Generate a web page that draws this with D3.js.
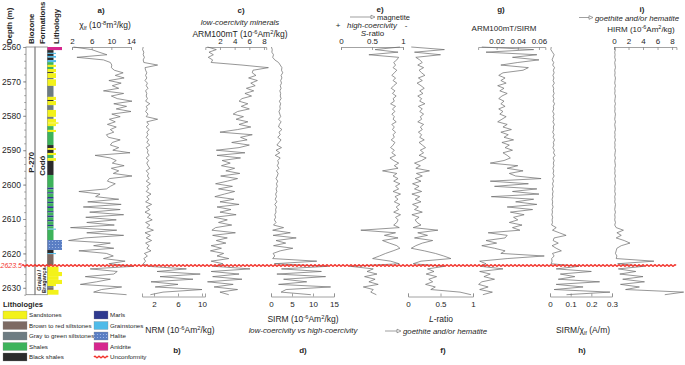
<!DOCTYPE html>
<html lang="en">
<head>
<meta charset="UTF-8">
<title>Magnetic properties log - P-270</title>
<script src="https://d3js.org/d3.v7.min.js"></script>
<style>
    body { margin: 0; background: #fff; font-family: "Liberation Sans", Arial, sans-serif; }
    svg text { fill: #262626; font-family: "Liberation Sans", Arial, sans-serif; }
    .curve { fill: none; stroke: #6a6a6a; stroke-width: 0.7; stroke-linejoin: bevel; }
    .axis path, .axis line { stroke: #8c8c8c; stroke-width: 0.8; }
    .axis text { font-size: 8px; fill: #262626; }
    .box { fill: none; stroke: #808080; stroke-width: 0.8; }
    .hdr { font-size: 7.8px; font-weight: bold; }
    .ttl { font-size: 8px; font-weight: bold; }
    .lbl { font-size: 8px; }
    .it { font-size: 7.8px; font-style: italic; }
    .leg { font-size: 6.2px; }
    .wave { fill: none; stroke: #f2332b; stroke-width: 1.4; }
    .arrow { fill: none; stroke: #777; stroke-width: 0.7; }
</style>
</head>
<body>
<svg id="chart" width="685" height="365"></svg>
<script>
// depth of every measurement (m)
const depths = [
    2560, 2560.75, 2561.5, 2562.25, 2563, 2563.75, 2564.5, 2565.25, 2566, 2566.75,
    2567.5, 2568.25, 2569, 2569.75, 2570.5, 2571.25, 2572, 2572.75, 2573.5, 2574.25,
    2575, 2575.75, 2576.5, 2577.25, 2578, 2578.75, 2579.5, 2580.25, 2581, 2581.75,
    2582.5, 2583.25, 2584, 2584.75, 2585.5, 2586.25, 2587, 2587.75, 2588.5, 2589.25,
    2590, 2590.75, 2591.5, 2592.25, 2593, 2593.75, 2594.5, 2595.25, 2596, 2596.75,
    2597.5, 2598.25, 2599, 2599.75, 2600.5, 2601.25, 2602, 2602.75, 2603.5, 2604.25,
    2605, 2605.75, 2606.5, 2607.25, 2608, 2608.75, 2609.5, 2610.25, 2611, 2611.75,
    2612.5, 2613.25, 2614, 2614.75, 2615.5, 2616.25, 2617, 2617.75, 2618.5, 2619.25,
    2620, 2620.75, 2621.5, 2622.25, 2623, 2623.75, 2624.5, 2625.25, 2626, 2626.75,
    2627.5, 2628.25, 2629, 2629.75, 2630.5, 2631.25, 2632
];

// a) chi lf (10^-8 m3/kg)
const chiLf = [
    2.3, 6.0, 7.5, 9.1, 3.0, 8.4, 9.8, 10.1, 10.0, 10.6,
    12.4, 10.8, 12.6, 9.5, 12.0, 10.2, 11.5, 8.4, 12.5, 10.0,
    11.2, 14.2, 10.5, 13.1, 11.0, 14.0, 10.1, 11.8, 9.6, 10.8,
    9.2, 11.0, 9.8, 10.5, 9.0, 9.4, 11.8, 10.2, 9.8, 11.5,
    10.3, 13.8, 6.7, 9.8, 11.0, 10.2, 12.6, 10.0, 11.5, 10.4,
    14.2, 9.6, 9.2, 10.8, 9.8, 9.0, 3.4, 7.7, 6.8, 11.5,
    5.2, 12.0, 4.3, 11.8, 5.6, 12.5, 4.8, 11.0, 5.0, 10.6,
    1.7, 11.1, 5.0, 12.5, 4.6, 1.3, 9.8, 6.4, 10.5, 3.4,
    9.0, 10.4, 8.4, 12.8, 9.5, 14.5, 5.7, 11.2, 10.5, 4.7,
    9.8, 7.0, 3.7, 12.1, 8.0, 6.4, 13.1
];

// b) NRM (10^-6 Am2/kg)
const nrm = [
    0.2, 0.1, 0.3, 0.2, 0.4, 0.2, 0.3, 2.6, 0.5, 0.6,
    0.8, 0.6, 0.8, 0.5, 0.9, 0.7, 1.0, 0.6, 0.8, 0.7,
    0.9, 0.6, 1.3, 0.7, 0.9, 0.6, 1.0, 0.7, 2.6, 0.8,
    1.1, 0.7, 1.2, 0.8, 1.0, 0.7, 1.1, 0.8, 1.3, 0.7,
    1.0, 0.9, 1.2, 0.7, 1.1, 0.8, 1.0, 1.3, 0.7, 1.1,
    0.9, 1.2, 0.7, 1.4, 0.8, 1.1, 0.7, 1.5, 0.8, 1.2,
    0.6, 1.6, 0.7, 1.3, 0.5, 1.4, 0.9, 1.7, 0.6, 1.3,
    0.8, 1.9, 0.5, 1.4, 0.7, 1.6, 0.6, 1.2, 0.8, 1.5,
    0.4, 0.9, 0.3, 0.6, 0.2, 1.0, 7.4, 2.5, 9.7, 3.0,
    8.5, 1.5, 6.0, 2.2, 10.0, 3.5, 1.4
];

// c) ARM100mT (10^-6 Am2/kg)
const arm = [
    0.3, 1.5, 0.5, 1.1, 0.4, 1.0, 0.8, 5.0, 8.6, 6.5,
    6.4, 6.9, 5.9, 7.1, 6.2, 6.8, 5.6, 6.6, 5.4, 6.3,
    5.0, 4.6, 5.8, 4.9, 6.0, 4.4, 3.8, 5.2, 4.2, 5.8,
    4.6, 6.2, 4.4, 2.0, 6.4, 4.8, 5.7, 3.6, 6.0, 4.6,
    1.5, 5.4, 1.6, 4.8, 2.3, 3.4, 2.2, 4.0, 2.8, 4.7,
    2.1, 4.4, 3.0, 1.4, 3.7, 1.8, 4.0, 2.6, 1.3, 3.9,
    2.0, 4.6, 1.6, 3.5, 2.0, 4.2, 1.2, 3.0, 1.8, 3.6,
    1.4, 0.9, 4.1, 1.0, 3.0, 1.5, 2.8, 0.8, 2.2, 0.7,
    2.5, 1.6, 3.2, 0.8, 2.4, 1.2, 6.1, 0.8, 4.6, 1.0,
    5.0, 0.3, 3.8, 1.2, 4.4, 2.0, 3.2
];

// d) SIRM (10^-6 Am2/kg)
const sirm = [
    0.1, 0.3, 0.2, 0.6, 0.4, 0.9, 1.8, 2.2, 2.6, 2.5,
    2.8, 2.4, 2.6, 2.3, 2.5, 2.2, 2.4, 2.1, 2.3, 2.2,
    2.4, 2.0, 2.3, 2.1, 2.2, 1.9, 2.1, 2.3, 1.8, 2.4,
    2.0, 1.8, 2.6, 1.9, 2.2, 1.6, 2.4, 1.9, 1.4, 2.5,
    1.2, 2.1, 1.0, 2.2, 1.6, 1.8, 1.5, 1.9, 1.3, 1.7,
    1.5, 1.2, 1.6, 1.3, 1.5, 1.2, 1.4, 1.1, 1.3, 1.0,
    1.4, 0.9, 1.3, 1.1, 1.2, 0.9, 1.1, 0.8, 1.2, 0.6,
    3.0, 0.4, 4.6, 0.5, 6.0, 1.2, 3.5, 0.6, 5.2, 2.2,
    0.5, 0.9, 0.4, 10.9, 0.8, 13.5, 2.5, 12.0, 1.4, 13.0,
    3.0, 8.5, 1.8, 14.2, 3.6, 2.4, 9.5
];

// e) S-ratio
const sRatio = [
    0.95, 0.55, 0.92, 0.45, 0.93, 0.90, 0.85, 0.88, 0.84, 0.90,
    0.86, 0.82, 0.88, 0.84, 0.90, 0.85, 0.81, 0.87, 0.83, 0.89,
    0.84, 0.86, 0.80, 0.88, 0.83, 0.87, 0.82, 0.86, 0.84, 0.89,
    0.82, 0.86, 0.83, 0.88, 0.84, 0.86, 0.81, 0.87, 0.84, 0.80,
    0.86, 0.82, 0.88, 0.79, 0.85, 0.93, 0.86, 0.92, 0.67, 0.90,
    0.84, 0.92, 0.85, 0.95, 0.88, 0.93, 0.84, 0.96, 0.87, 0.92,
    0.86, 0.95, 0.89, 0.93, 0.85, 0.96, 0.88, 0.92, 0.90, 0.85,
    0.94, 0.32, 0.88, 0.70, 0.92, 0.67, 0.78, 0.90, 0.95, 0.84,
    0.72, 0.62, 0.51, 0.80, 0.94, 0.15, 0.52, 0.42, 0.58, 0.38,
    0.55, 0.45, 0.60, 0.36, 0.52, 0.48, 0.57
];

// f) L-ratio
const lRatio = [
    0.05, 0.56, 0.10, 0.50, 0.12, 0.18, 0.22, 0.15, 0.24, 0.17,
    0.21, 0.26, 0.16, 0.22, 0.14, 0.20, 0.25, 0.18, 0.23, 0.15,
    0.21, 0.18, 0.26, 0.16, 0.22, 0.18, 0.24, 0.19, 0.21, 0.15,
    0.24, 0.19, 0.22, 0.16, 0.21, 0.18, 0.25, 0.17, 0.22, 0.27,
    0.19, 0.24, 0.17, 0.28, 0.21, 0.10, 0.19, 0.12, 0.33, 0.13,
    0.22, 0.11, 0.20, 0.07, 0.17, 0.10, 0.21, 0.06, 0.18, 0.11,
    0.20, 0.07, 0.16, 0.10, 0.22, 0.06, 0.17, 0.11, 0.14, 0.20,
    0.08, 0.46, 0.15, 0.30, 0.10, 0.38, 0.22, 0.12, 0.05, 0.25,
    0.42, 0.55, 0.66, 0.20, 0.08, 0.56, 0.30, 0.40, 0.28, 0.44,
    0.32, 0.38, 0.27, 0.42, 0.35, 0.80, 0.97
];

// g) ARM100mT/SIRM
const armSirm = [
    0.006, 0.055, 0.010, 0.058, 0.035, 0.060, 0.040, 0.024, 0.050, 0.045,
    0.026, 0.022, 0.028, 0.024, 0.029, 0.021, 0.027, 0.023, 0.030, 0.025,
    0.022, 0.027, 0.024, 0.028, 0.022, 0.026, 0.023, 0.029, 0.025, 0.021,
    0.030, 0.026, 0.034, 0.024, 0.031, 0.027, 0.036, 0.025, 0.032, 0.028,
    0.035, 0.026, 0.030, 0.033, 0.027, 0.014, 0.040, 0.030, 0.045, 0.032,
    0.038, 0.062, 0.014, 0.050, 0.018, 0.058, 0.035, 0.060, 0.015, 0.055,
    0.038, 0.058, 0.030, 0.054, 0.033, 0.046, 0.036, 0.040, 0.032, 0.044,
    0.035, 0.042, 0.012, 0.030, 0.028, 0.010, 0.020, 0.006, 0.018, 0.028,
    0.024, 0.065, 0.030, 0.004, 0.010, 0.005, 0.026, 0.004, 0.014, 0.008,
    0.018, 0.006, 0.003, 0.012, 0.004, 0.016, 0.007
];

// h) SIRM/chi lf (A/m)
const sirmChi = [
    0.006, 0.004, 0.012, 0.020, 0.015, 0.010, 0.018, 0.013, 0.022, 0.016,
    0.020, 0.014, 0.019, 0.015, 0.021, 0.013, 0.018, 0.016, 0.020, 0.014,
    0.019, 0.015, 0.022, 0.016, 0.018, 0.013, 0.020, 0.015, 0.019, 0.014,
    0.021, 0.016, 0.018, 0.013, 0.020, 0.015, 0.022, 0.016, 0.019, 0.014,
    0.021, 0.017, 0.024, 0.015, 0.020, 0.016, 0.019, 0.014, 0.018, 0.015,
    0.020, 0.013, 0.017, 0.012, 0.016, 0.011, 0.015, 0.012, 0.014, 0.010,
    0.013, 0.011, 0.015, 0.010, 0.012, 0.009, 0.013, 0.010, 0.012, 0.008,
    0.030, 0.012, 0.045, 0.078, 0.020, 0.015, 0.040, 0.010, 0.030, 0.055,
    0.012, 0.020, 0.008, 0.010, 0.006, 0.140, 0.030, 0.200, 0.050, 0.120,
    0.040, 0.240, 0.030, 0.160, 0.020, 0.290, 0.080
];

// i) HIRM (10^-6 Am2/kg)
const hirm = [
    0.1, 0.2, 0.1, 0.15, 0.1, 0.2, 0.1, 0.15, 0.2, 0.1,
    0.15, 0.1, 0.2, 0.15, 0.1, 0.2, 0.1, 0.15, 0.1, 0.2,
    0.15, 0.1, 0.2, 0.1, 0.15, 0.1, 0.2, 0.15, 0.1, 0.2,
    0.1, 0.15, 0.2, 0.1, 0.15, 0.1, 0.2, 0.1, 0.15, 0.1,
    0.2, 0.15, 0.1, 0.2, 0.1, 0.15, 0.2, 0.1, 0.15, 0.1,
    0.2, 0.1, 0.15, 0.2, 0.1, 0.15, 0.1, 0.2, 0.1, 0.15,
    0.1, 0.2, 0.15, 0.1, 0.2, 0.1, 0.15, 0.1, 0.2, 0.1,
    0.3, 1.3, 0.4, 1.0, 0.3, 1.4, 2.2, 1.0, 0.4, 0.3,
    0.2, 0.4, 0.3, 5.5, 0.5, 4.1, 0.6, 3.0, 0.8, 4.0,
    1.2, 4.2, 0.9, 3.5, 1.6, 9.6, 7.0
];

// lithology column: top, base, rock code, grain class
const lithTop = [
    2560.0, 2560.9, 2561.7, 2562.0, 2562.6, 2563.1, 2563.8, 2564.4, 2565.2, 2565.8,
    2566.4, 2567.3, 2567.6, 2569.0, 2569.4, 2571.3, 2574.5, 2575.4, 2575.7, 2576.9,
    2578.3, 2580.3, 2580.9, 2581.9, 2582.3, 2583.0, 2584.1, 2584.7, 2588.5, 2589.4,
    2589.9, 2590.8, 2591.4, 2592.3, 2593.1, 2597.2, 2600.4, 2600.9, 2601.4, 2602.2,
    2602.6, 2603.6, 2604.1, 2605.0, 2605.4, 2606.3, 2606.8, 2607.7, 2608.1, 2609.0,
    2609.5, 2610.3, 2610.7, 2611.7, 2612.1, 2612.8, 2613.1, 2616.1, 2619.0, 2619.9,
    2620.2, 2623.8, 2625.4, 2626.6, 2627.7, 2628.9, 2629.5, 2630.0, 2630.6
];
const lithBase = [
    2560.9, 2561.7, 2562.0, 2562.6, 2563.1, 2563.8, 2564.4, 2565.2, 2565.8, 2566.4,
    2567.3, 2567.6, 2569.0, 2569.4, 2571.3, 2574.5, 2575.4, 2575.7, 2576.9, 2578.3,
    2580.3, 2580.9, 2581.9, 2582.3, 2583.0, 2584.1, 2584.7, 2588.5, 2589.4, 2589.9,
    2590.8, 2591.4, 2592.3, 2593.1, 2597.2, 2600.4, 2600.9, 2601.4, 2602.2, 2602.6,
    2603.6, 2604.1, 2605.0, 2605.4, 2606.3, 2606.8, 2607.7, 2608.1, 2609.0, 2609.5,
    2610.3, 2610.7, 2611.7, 2612.1, 2612.8, 2613.1, 2616.1, 2619.0, 2619.9, 2620.2,
    2623.5, 2625.4, 2626.6, 2627.7, 2628.9, 2629.5, 2630.0, 2630.6, 2632.0
];
const lithRock = [
    'A', 'K', 'Gr', 'K', 'Gr', 'K', 'Gr', 'Sh', 'S', 'Sh',
    'S', 'K', 'S', 'G', 'S', 'G', 'S', 'K', 'S', 'G',
    'S', 'G', 'S', 'S', 'S', 'Sh', 'S', 'Sh', 'K', 'S',
    'K', 'S', 'Sh', 'S', 'K', 'Sh', 'Sh', 'M', 'Sh', 'M',
    'Sh', 'M', 'Sh', 'M', 'Sh', 'M', 'Sh', 'M', 'Sh', 'M',
    'Sh', 'M', 'Sh', 'M', 'Sh', 'Gr', 'Sh', 'H', 'K', 'Gr',
    'B', 'S', 'S', 'S', 'S', 'S', 'G', 'B', 'S'
];
const lithGrain = [
    4, 1, 2, 1, 2, 1, 2, 1, 2, 1,
    2, 1, 2, 1, 2, 1, 2, 1, 2, 1,
    2, 1, 2, 3, 2, 1, 2, 1, 1, 2,
    1, 2, 1, 2, 1, 1, 1, 1, 1, 1,
    1, 1, 1, 1, 1, 1, 1, 1, 1, 1,
    1, 1, 1, 1, 1, 2, 1, 4, 1, 2,
    1, 3, 4, 3, 4, 2, 1, 1, 3
];

// legend
const rockCodes = ['S', 'B', 'G', 'Sh', 'K', 'M', 'Gr', 'H', 'A'];
const rockNames = ['Sandstones', 'Brown to red siltstones', 'Gray to green siltstones', 'Shales',
    'Black shales', 'Marls', 'Grainstones', 'Halite', 'Anidrite'];

const depthTicks = [2560, 2570, 2580, 2590, 2600, 2610, 2620, 2630];
const unconformityDepth = 2623.5;

const rockColor = d3.scaleOrdinal()
    .domain(rockCodes)
    .range(['#f3f21a', '#7d6a63', '#6d7c82', '#3db35b', '#2b2b2b', '#2f3a8f', '#4fbbe9', 'url(#halite)', '#d6268e']);
const grainWidth = d3.scaleOrdinal().domain([1, 2, 3, 4]).range([6, 8.5, 11, 14.5]);

const svg = d3.select('#chart');

// halite dotted fill
const pat = svg.append('defs').append('pattern')
    .attr('id', 'halite').attr('width', 3).attr('height', 3)
    .attr('patternUnits', 'userSpaceOnUse');
pat.append('rect').attr('width', 3).attr('height', 3).attr('fill', '#5a7ec4');
pat.append('circle').attr('cx', 1.5).attr('cy', 1.5).attr('r', 0.6).attr('fill', '#a9c0ea');

const y = d3.scaleLinear().domain([2560, 2632]).range([47, 294.7]);
const topAxisY = 47;
const bottomAxisY = 296.5;

// text with sub/superscripts and italics
function rich(x, yy, parts, anchor = 'middle', size = 8) {
    const t = svg.append('text').attr('x', x).attr('y', yy)
        .attr('text-anchor', anchor).style('font-size', size + 'px');
    let shift = 0;
    parts.forEach(([s, k]) => {
        const target = k === 'sup' ? -3 : k === 'sub' ? 2 : 0;
        const ts = t.append('tspan').text(s).attr('dy', target - shift);
        if (k === 'sup' || k === 'sub') ts.style('font-size', (size * 0.68) + 'px');
        if (k === 'i') ts.style('font-style', 'italic');
        shift = target;
    });
    return t;
}

function arrow(x1, x2, yy) {
    svg.append('path').attr('class', 'arrow')
        .attr('d', `M${x1},${yy}H${x2 - 4}M${x2 - 4},${yy - 1.8}L${x2},${yy}L${x2 - 4},${yy + 1.8}Z`);
}

// ---- depth / biozone / formation columns ----
svg.append('g').attr('class', 'axis')
    .attr('transform', 'translate(26,0)')
    .call(d3.axisLeft(y).tickValues(d3.range(2560, 2633, 2)).tickFormat('').tickSize(1.8))
    .call(g => g.select('.domain').remove());
svg.append('g').attr('class', 'axis')
    .attr('transform', 'translate(26,0)')
    .call(d3.axisLeft(y).tickValues(depthTicks).tickFormat(d3.format('d')).tickSize(3).tickPadding(2))
    .call(g => g.select('.domain').remove())
    .call(g => g.selectAll('text').style('font-size', '8.5px'));

svg.append('rect').attr('class', 'box').attr('x', 26).attr('y', y(2560)).attr('width', 9).attr('height', y(2632) - y(2560));
svg.append('rect').attr('class', 'box').attr('x', 35).attr('y', y(2560)).attr('width', 12.5).attr('height', y(2632) - y(2560));
svg.append('line').attr('class', 'box').attr('x1', 35).attr('x2', 47.5).attr('y1', y(unconformityDepth)).attr('y2', y(unconformityDepth));

const headers = [['Depth (m)', 9], ['Biozone', 30.5], ['Formations', 42], ['Lithology', 56]];
headers.forEach(([t, x]) => {
    svg.append('text').attr('class', 'hdr')
        .attr('transform', `translate(${x + 3},44) rotate(-90)`).text(t);
});

svg.append('text').attr('class', 'hdr')
    .attr('transform', `translate(${30.5 + 3},${y(2593.5)}) rotate(-90)`)
    .attr('text-anchor', 'middle').text('P-270');
svg.append('text').attr('class', 'hdr')
    .attr('transform', `translate(${41.5 + 3},${y(2594.5)}) rotate(-90)`)
    .attr('text-anchor', 'middle').text('Codó');
svg.append('text').attr('class', 'hdr').style('font-size', '5.6px')
    .attr('transform', `translate(${38.5 + 2},${y(2627.8)}) rotate(-90)`)
    .attr('text-anchor', 'middle').text('Grajaú /');
svg.append('text').attr('class', 'hdr').style('font-size', '5.6px')
    .attr('transform', `translate(${44 + 2},${y(2627.8)}) rotate(-90)`)
    .attr('text-anchor', 'middle').text('Bragança');

// ---- lithology ----
svg.append('g').selectAll('rect')
    .data(d3.range(lithTop.length))
    .join('rect')
    .attr('x', 47.5)
    .attr('y', i => y(lithTop[i]))
    .attr('width', i => grainWidth(lithGrain[i]))
    .attr('height', i => y(lithBase[i]) - y(lithTop[i]))
    .attr('fill', i => rockColor(lithRock[i]));

// ---- log panels ----
const panels = [
    { values: chiLf, domain: [2, 14], range: [72, 131], side: 'top', ticks: [2, 6, 10, 14] },
    { values: nrm, domain: [0, 10.5], range: [142, 205], side: 'bottom', ticks: [2, 6, 10] },
    { values: arm, domain: [0, 8.3], range: [205.3, 266.2], side: 'top', ticks: [2, 4, 6, 8] },
    { values: sirm, domain: [0, 15], range: [271, 334], side: 'bottom', ticks: [0, 5, 10, 15] },
    { values: sRatio, domain: [0, 1], range: [341, 403], side: 'top', ticks: [0, 0.5, 1] },
    { values: lRatio, domain: [0, 1], range: [408, 473], side: 'bottom', ticks: [0, 0.5, 1] },
    { values: armSirm, domain: [0.0025, 0.066], range: [478.1, 545.3], side: 'top', ticks: [0.02, 0.04, 0.06] },
    { values: sirmChi, domain: [0, 0.3], range: [550, 612], side: 'bottom', ticks: [0, 0.1, 0.2, 0.3] },
    { values: hirm, domain: [0, 8.6], range: [614, 676.4], side: 'top', ticks: [0, 2, 4, 6, 8] }
];

panels.forEach(p => {
    const x = d3.scaleLinear().domain(p.domain).range(p.range);
    const ax = (p.side === 'top' ? d3.axisTop(x) : d3.axisBottom(x))
        .tickValues(p.ticks).tickFormat(String).tickSize(-3)
        .tickPadding(p.side === 'top' ? 3 : 5);
    svg.append('g').attr('class', 'axis')
        .attr('transform', `translate(0,${p.side === 'top' ? topAxisY : bottomAxisY})`)
        .call(ax);
    const line = d3.line().x(d => x(d[1])).y(d => y(d[0]));
    svg.append('path').attr('class', 'curve')
        .attr('d', line(depths.map((d, i) => [d, p.values[i]])));
});

// ---- panel titles (top) ----
svg.append('text').attr('class', 'ttl').attr('x', 101).attr('y', 13).attr('text-anchor', 'middle').text('a)');
rich(105, 28, [['χ', null], ['lf', 'sub'], [' (10', null], ['-8', 'sup'], ['m', null], ['3', 'sup'], ['/kg)', null]], 'middle', 8.5);

svg.append('text').attr('class', 'ttl').attr('x', 241).attr('y', 13).attr('text-anchor', 'middle').text('c)');
svg.append('text').attr('class', 'it').attr('x', 240).attr('y', 25).attr('text-anchor', 'middle').text('low-coercivity minerals');
rich(240, 36.5, [['ARM100mT (10', null], ['-6', 'sup'], ['Am', null], ['2', 'sup'], ['/kg)', null]], 'middle', 8.5);

svg.append('text').attr('class', 'ttl').attr('x', 380).attr('y', 12).attr('text-anchor', 'middle').text('e)');
arrow(350, 375, 17);
svg.append('text').attr('class', 'lbl').style('font-size', '7.5px').attr('x', 377).attr('y', 19.5).text('magnetite');
svg.append('text').attr('class', 'lbl').attr('x', 338).attr('y', 28).attr('text-anchor', 'middle').text('+');
svg.append('text').attr('class', 'it').attr('x', 372).attr('y', 28).attr('text-anchor', 'middle').text('high-coercivity');
svg.append('text').attr('class', 'lbl').attr('x', 406).attr('y', 28).attr('text-anchor', 'middle').text('-');
rich(372.5, 35.5, [['S', 'i'], ['-ratio', null]]);

svg.append('text').attr('class', 'ttl').attr('x', 501).attr('y', 12).attr('text-anchor', 'middle').text('g)');
svg.append('text').attr('class', 'lbl').attr('x', 504).attr('y', 31).attr('text-anchor', 'middle').text('ARM100mT/SIRM');

svg.append('text').attr('class', 'ttl').attr('x', 642).attr('y', 12).attr('text-anchor', 'middle').text('i)');
arrow(579, 593, 17.5);
svg.append('text').attr('class', 'it').attr('x', 595).attr('y', 20.5).text('goethite and/or hematite');
rich(641, 31.5, [['HIRM (10', null], ['-6', 'sup'], ['Am', null], ['2', 'sup'], ['/kg)', null]]);

// ---- panel titles (bottom) ----
rich(180, 333, [['NRM (10', null], ['-6', 'sup'], ['Am', null], ['2', 'sup'], ['/kg)', null]], 'middle', 8.5);
svg.append('text').attr('class', 'ttl').attr('x', 177).attr('y', 353).attr('text-anchor', 'middle').text('b)');

rich(303, 322, [['SIRM (10', null], ['-6', 'sup'], ['Am', null], ['2', 'sup'], ['/kg)', null]], 'middle', 8.5);
svg.append('text').attr('class', 'it').attr('x', 303).attr('y', 333).attr('text-anchor', 'middle').text('low-coercivity vs high-coercivity');
svg.append('text').attr('class', 'ttl').attr('x', 303).attr('y', 353).attr('text-anchor', 'middle').text('d)');

rich(441, 322, [['L', 'i'], ['-ratio', null]], 'middle', 8.5);
arrow(385, 401, 331);
svg.append('text').attr('class', 'it').attr('x', 403).attr('y', 334).text('goethite and/or hematite');
svg.append('text').attr('class', 'ttl').attr('x', 443).attr('y', 353).attr('text-anchor', 'middle').text('f)');

rich(583, 333, [['SIRM/χ', null], ['lf', 'sub'], [' (A/m)', null]], 'middle', 8.5);
svg.append('text').attr('class', 'ttl').attr('x', 582).attr('y', 353).attr('text-anchor', 'middle').text('h)');

// ---- unconformity ----
function wavePath(x0, x1, yy) {
    const pts = d3.range(x0, x1 + 0.01, 1).map(x => [x, yy + 1.1 * Math.sin(x * Math.PI / 2)]);
    return d3.line().curve(d3.curveBasis)(pts);
}
svg.append('path').attr('class', 'wave').attr('d', wavePath(22, 676, y(unconformityDepth)));
svg.append('text').attr('x', 0.5).attr('y', y(unconformityDepth) + 2.5)
    .style('font-size', '7px').style('font-style', 'italic')
    .style('fill', '#f2332b').text(unconformityDepth);

// ---- legend ----
svg.append('text').attr('class', 'hdr').style('font-size', '7.5px').attr('x', 3).attr('y', 307).text('Lithologies');
const legRowY = d3.scaleLinear().domain([0, 4]).range([315, 357]);
rockCodes.forEach((c, i) => {
    const col = i < 5 ? 0 : 1;
    const row = col === 0 ? i : i - 5;
    const sx = col === 0 ? 3 : 94;
    const sw = col === 0 ? 24 : 14;
    svg.append('rect').attr('x', sx).attr('y', legRowY(row) - 4).attr('width', sw).attr('height', 8)
        .attr('fill', rockColor(c)).attr('stroke', '#888').attr('stroke-width', 0.3);
    svg.append('text').attr('class', 'leg').attr('x', sx + sw + 2).attr('y', legRowY(row) + 2.2).text(rockNames[i]);
});
svg.append('path').attr('class', 'wave').attr('d', wavePath(94, 108, legRowY(4)));
svg.append('text').attr('class', 'leg').attr('x', 110).attr('y', legRowY(4) + 2.2).text('Unconformity');
</script>
</body>
</html>
